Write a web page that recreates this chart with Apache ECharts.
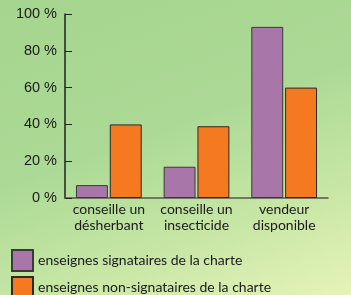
<!DOCTYPE html>
<html>
<head>
<meta charset="utf-8">
<script src="https://cdn.jsdelivr.net/npm/echarts@6/dist/echarts.min.js"></script>
<style>
  html, body { margin: 0; padding: 0; }
  #chart {
    width: 351px;
    height: 295px;
    background: linear-gradient(160deg, #a5d58f 0%, #acda96 45%, #c9e7a6 75%, #e6f3b9 100%);
  }
</style>
</head>
<body>
<div id="chart"></div>
<script>
const categories = ['conseille un\ndésherbant', 'conseille un\ninsecticide', 'vendeur\ndisponible']
const signataires = [7, 17, 93]
const nonSignataires = [40, 39, 60]
const seriesNames = ['enseignes signataires de la charte', 'enseignes non-signataires de la charte']

const legendText = {
  fontFamily: 'Lato',
  fontSize: 14,
  color: '#1a1a1a'
}

const chart = echarts.init(document.getElementById('chart'))
chart.setOption({
  animation: false,
  grid: {
    left: 65,
    right: 23,
    top: 14,
    bottom: 97
  },
  // one legend per row, stacked
  legend: [
    {
      left: 11,
      top: 249,
      padding: 0,
      itemWidth: 21,
      itemHeight: 21,
      icon: 'rect',
      textStyle: legendText,
      data: [seriesNames[0]]
    },
    {
      left: 11,
      top: 276,
      padding: 0,
      itemWidth: 21,
      itemHeight: 21,
      icon: 'rect',
      textStyle: legendText,
      data: [seriesNames[1]]
    }
  ],
  xAxis: {
    type: 'category',
    data: categories,
    axisLine: { lineStyle: { color: '#555', width: 1.5 } },
    axisTick: { show: false },
    axisLabel: {
      interval: 0,
      fontFamily: 'Lato',
      fontSize: 14,
      color: '#1a1a1a',
      lineHeight: 16,
      margin: 3
    }
  },
  yAxis: {
    type: 'value',
    min: 0,
    max: 100,
    interval: 20,
    splitLine: { show: false },
    axisLine: { show: true, lineStyle: { color: '#222', width: 1.5 } },
    axisTick: { show: true, inside: true, length: 7, lineStyle: { color: '#222' } },
    axisLabel: {
      formatter: '{value} %',
      fontFamily: 'Liberation Sans',
      fontSize: 14.5,
      color: '#1a1a1a',
      margin: 8
    }
  },
  series: [
    {
      name: seriesNames[0],
      type: 'bar',
      data: signataires,
      barGap: '6%',
      barCategoryGap: '25%',
      itemStyle: { color: '#a976a9', borderColor: '#3a3a3a', borderWidth: 1 }
    },
    {
      name: seriesNames[1],
      type: 'bar',
      data: nonSignataires,
      itemStyle: { color: '#f47920', borderColor: '#2a2a2a', borderWidth: 1 }
    }
  ]
})
</script>
</body>
</html>
